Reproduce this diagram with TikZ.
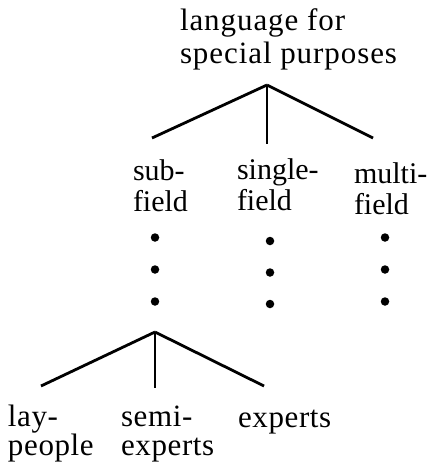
\documentclass[tikz,border=0pt]{standalone}
\usepackage{fontspec}
\setmainfont{Liberation Serif}
\begin{document}
\begin{tikzpicture}[x=1pt,y=-1pt,
  lbl/.style={inner sep=0pt,outer sep=0pt,anchor=base west,align=left},
  toplbl/.style={lbl,font=\fontsize{31}{32.3}\selectfont\addfontfeature{LetterSpace=3}},
  midlbl/.style={lbl,font=\fontsize{30}{31}\selectfont},
  botlbl/.style={lbl,font=\fontsize{31}{29}\selectfont\addfontfeature{LetterSpace=2}},
  branch/.style={line width=2.8pt},
  dotmark/.style={circle,fill=black,inner sep=0pt,minimum size=8.5pt}]
\useasboundingbox (0,0) rectangle (429,466);
% labels (anchor = baseline of last line)
\node[toplbl] (lsp) at (180,63) {language for\\special purposes};
\node[midlbl] (sub) at (133,211) {sub-\\field};
\node[midlbl] (single) at (237,210) {single-\\field};
\node[midlbl] (multi) at (354,214) {multi-\\field};
\node[botlbl] (lay) at (8,455) {lay-\\people};
\node[botlbl] (semi) at (121,455) {semi-\\experts};
\node[botlbl] (exp) at (238,427) {experts};
% connector points
\coordinate (apexA) at (267,85);
\coordinate (endSub) at (152,138);
\coordinate (endSingle) at (267,144);
\coordinate (endMulti) at (373,138);
\coordinate (apexB) at (155,332);
\coordinate (endLay) at (41,386);
\coordinate (endSemi) at (155,388);
\coordinate (endExp) at (264,386);
\draw[branch] (apexA) -- (endSub);
\draw[branch] (apexA) -- (endSingle);
\draw[branch] (apexA) -- (endMulti);
\draw[branch] (apexB) -- (endLay);
\draw[branch] (apexB) -- (endSemi);
\draw[branch] (apexB) -- (endExp);
% dots
\node[dotmark] (d1) at (155,237.5) {};
\node[dotmark] (d2) at (155,269.5) {};
\node[dotmark] (d3) at (155,301.5) {};
\node[dotmark] (d4) at (270,241) {};
\node[dotmark] (d5) at (270,272.5) {};
\node[dotmark] (d6) at (270,304) {};
\node[dotmark] (d7) at (385,237.5) {};
\node[dotmark] (d8) at (385,269.5) {};
\node[dotmark] (d9) at (385,301.5) {};
\end{tikzpicture}
\end{document}
